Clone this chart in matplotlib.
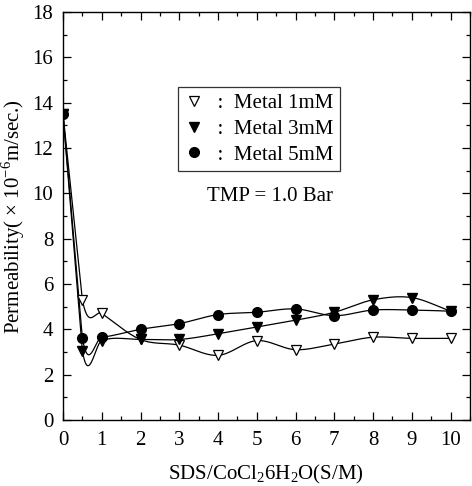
import numpy as np
import matplotlib
matplotlib.use("Agg")
import matplotlib.pyplot as plt
from matplotlib.ticker import MultipleLocator

plt.rcParams['font.family'] = ['Liberation Serif', 'DejaVu Serif']
plt.rcParams['mathtext.fontset'] = 'custom'
plt.rcParams['mathtext.rm'] = 'Liberation Serif'

x = [0, 0.5, 1, 2, 3, 4, 5, 6, 7, 8, 9, 10]
metal_1mM = [13.5, 5.3, 4.7, 3.55, 3.3, 2.85, 3.5, 3.1, 3.35, 3.65, 3.6, 3.6]
metal_3mM = [13.5, 3.05, 3.5, 3.55, 3.55, 3.8, 4.1, 4.4, 4.75, 5.3, 5.4, 4.8]
metal_5mM = [13.5, 3.6, 3.65, 4.0, 4.25, 4.65, 4.75, 4.9, 4.6, 4.85, 4.85, 4.8]
labels = ["  :  Metal 1mM", "  :  Metal 3mM", "  :  Metal 5mM"]


def smooth(xs, ys, n=40):
    xs = np.asarray(xs, float)
    ys = np.asarray(ys, float)
    m = np.gradient(ys, xs)
    m[0] = (ys[1] - ys[0]) / (xs[1] - xs[0])
    m[-1] = (ys[-1] - ys[-2]) / (xs[-1] - xs[-2])
    outx, outy = [], []
    for i in range(len(xs) - 1):
        h = xs[i + 1] - xs[i]
        t = np.linspace(0, 1, n)
        h00 = 2 * t**3 - 3 * t**2 + 1
        h10 = t**3 - 2 * t**2 + t
        h01 = -2 * t**3 + 3 * t**2
        h11 = t**3 - t**2
        if i == 0:
            yy = ys[i] + (ys[i + 1] - ys[i]) * t
        else:
            yy = h00 * ys[i] + h10 * h * m[i] + h01 * ys[i + 1] + h11 * h * m[i + 1]
        outx.append(xs[i] + h * t)
        outy.append(yy)
    return np.concatenate(outx), np.concatenate(outy)


fig = plt.figure(figsize=(4.72, 4.86), dpi=100)
ax = fig.add_axes([0.1335, 0.136, 0.862, 0.839])

for ys in (metal_1mM, metal_3mM, metal_5mM):
    sx, sy = smooth(x, ys)
    ax.plot(sx, sy, color='black', lw=0.9, zorder=2)

h1, = ax.plot(x, metal_1mM, linestyle='none', marker='v', ms=7, mfc='white',
              mec='black', mew=0.9, zorder=3)
h2, = ax.plot(x, metal_3mM, linestyle='none', marker='v', ms=7, mfc='black',
              mec='black', zorder=4)
h3, = ax.plot(x, metal_5mM, linestyle='none', marker='o', ms=7, mfc='black',
              mec='black', zorder=5)

ax.set_xlim(0, 10.5)
ax.set_ylim(0, 18)
ax.xaxis.set_major_locator(MultipleLocator(1))
ax.xaxis.set_minor_locator(MultipleLocator(0.5))
ax.yaxis.set_major_locator(MultipleLocator(2))
ax.yaxis.set_minor_locator(MultipleLocator(1))
ax.tick_params(which='both', direction='in', top=True, right=True, width=0.9)
ax.tick_params(which='major', length=6, labelsize=15)
ax.tick_params(which='minor', length=3)
ax.tick_params(axis='x', pad=8)
ax.tick_params(axis='y', pad=7)
for s in ax.spines.values():
    s.set_linewidth(1.0)

ax.set_xlabel(r'SDS/CoCl$_2$6H$_2$O(S/M)', fontsize=15, labelpad=9)
ax.set_ylabel(r'Permeability( $\times$ 10$^{-6}$m/sec.)', fontsize=15, labelpad=4)

leg = ax.legend([h1, h2, h3], labels, loc='upper left',
                bbox_to_anchor=(0.283, 0.816), frameon=True, fancybox=False,
                edgecolor='black', fontsize=15, handlelength=0.9,
                handletextpad=0.2, borderpad=0.3, labelspacing=0.3,
                borderaxespad=0)
leg.get_frame().set_linewidth(0.9)

ax.text(5.33, 9.85, 'TMP = 1.0 Bar', fontsize=15, ha='center', va='center')

fig.savefig('out.png', dpi=100)
